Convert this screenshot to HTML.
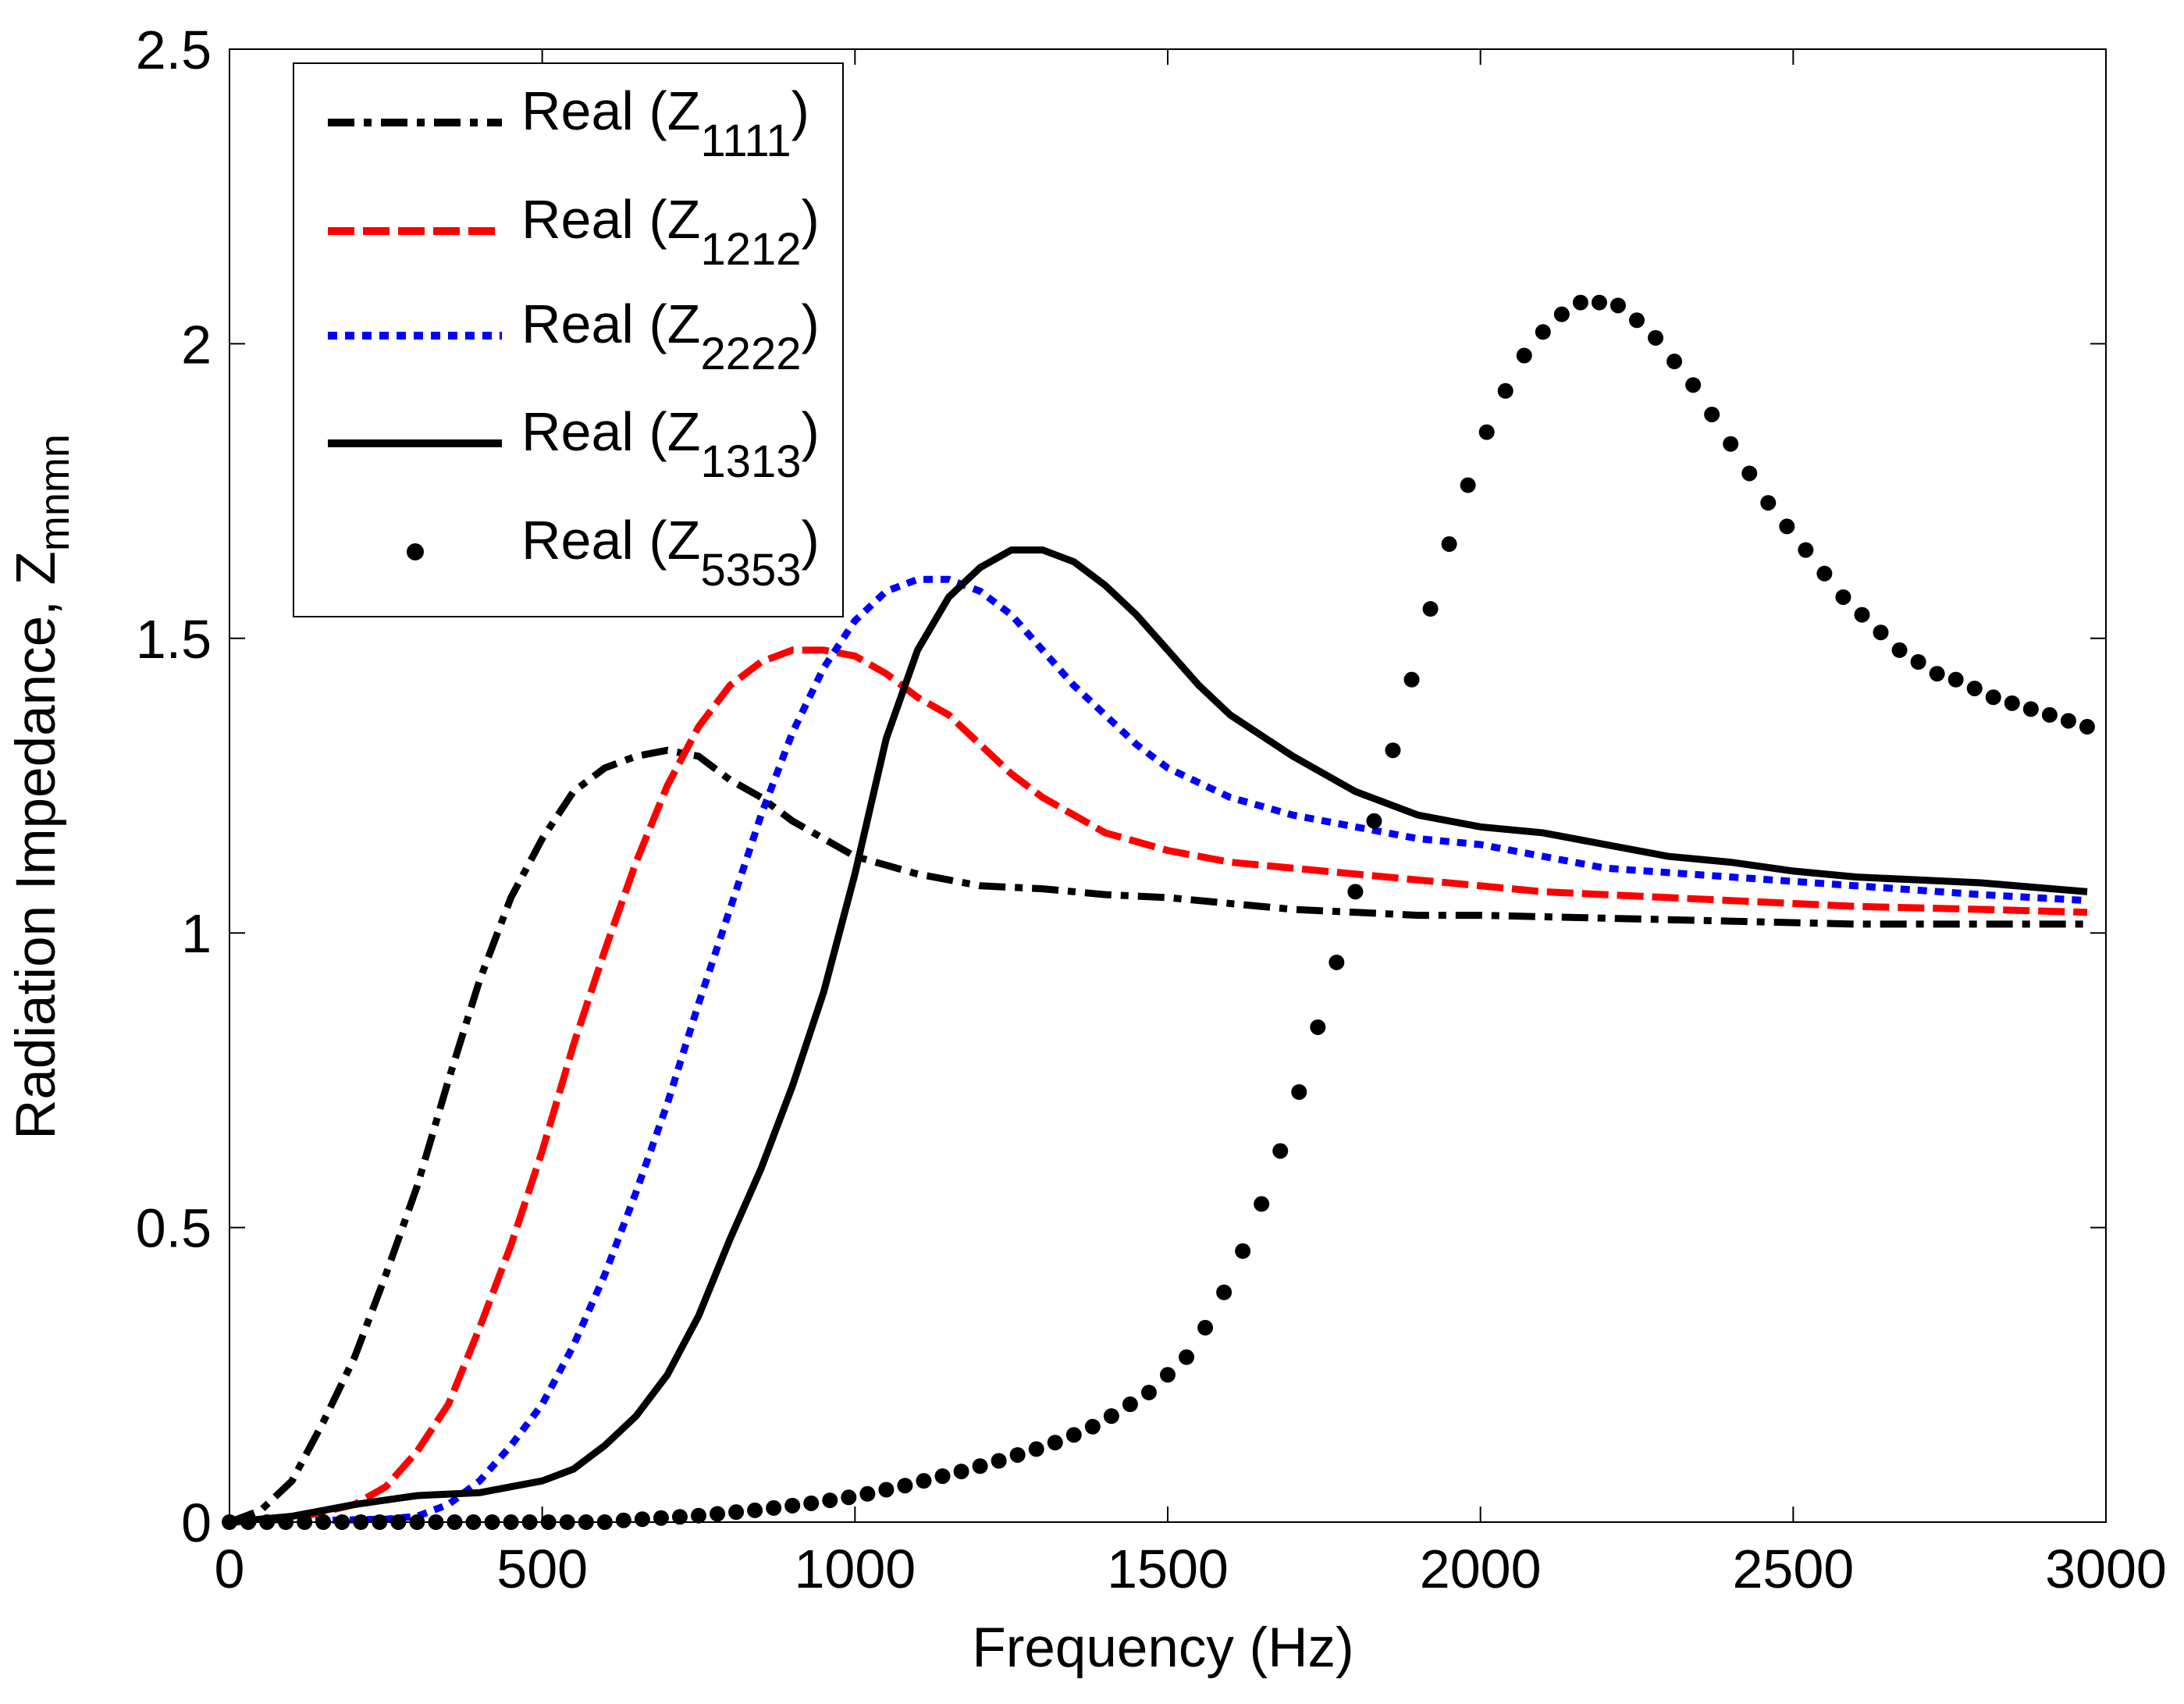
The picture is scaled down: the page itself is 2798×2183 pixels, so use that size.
<!DOCTYPE html>
<html><head><meta charset="utf-8"><style>
html,body{margin:0;padding:0;background:#fff;}
svg text{font-family:"Liberation Sans",sans-serif;fill:#000;}
</style></head><body>
<svg id="chart" width="2798" height="2178" xmlns="http://www.w3.org/2000/svg">
<rect width="2798" height="2178" fill="#fff"/>
<g id="marks"></g>
<rect x="294" y="63" width="2404" height="1887" fill="none" stroke="#000" stroke-width="2"/>
<g id="ticks"></g>
<text x="1490" y="2135" font-size="71" text-anchor="middle">Frequency (Hz)</text>
<text transform="translate(70,1008) rotate(-90)" font-size="71" text-anchor="middle">Radiation Impedance, Z<tspan font-size="54" dy="18">mnmn</tspan></text>
<g>
<rect x="376" y="81" width="704" height="709" fill="#fff" stroke="#000" stroke-width="2"/>
<line x1="420" y1="157" x2="643" y2="157" stroke="#000" stroke-width="10" stroke-dasharray="34,12,10,12"/>
<line x1="420" y1="296" x2="643" y2="296" stroke="#f00" stroke-width="10" stroke-dasharray="34,11"/>
<line x1="420" y1="430" x2="643" y2="430" stroke="#00f" stroke-width="10" stroke-dasharray="12,10"/>
<line x1="420" y1="568" x2="643" y2="568" stroke="#000" stroke-width="10"/>
<circle cx="532" cy="707" r="11" fill="#000"/>
<text x="668" y="166" font-size="70">Real (Z<tspan font-size="58" dy="34">1111</tspan><tspan dy="-34">)</tspan></text>
<text x="668" y="305" font-size="70">Real (Z<tspan font-size="58" dy="34">1212</tspan><tspan dy="-34">)</tspan></text>
<text x="668" y="439" font-size="70">Real (Z<tspan font-size="58" dy="34">2222</tspan><tspan dy="-34">)</tspan></text>
<text x="668" y="577" font-size="70">Real (Z<tspan font-size="58" dy="34">1313</tspan><tspan dy="-34">)</tspan></text>
<text x="668" y="716" font-size="70">Real (Z<tspan font-size="58" dy="34">5353</tspan><tspan dy="-34">)</tspan></text>
</g>
</svg>
<script>
const xTicks=[0,500,1000,1500,2000,2500,3000];
const yTicks=[0,0.5,1,1.5,2,2.5];
const yTickLabels=["0","0.5","1","1.5","2","2.5"];
const f1111=[0,50,100,150,200,250,300,350,400,450,500,550,600,650,700,750,800,850,900,950,1000,1100,1200,1300,1400,1500,1600,1700,1800,1900,2000,2200,2400,2600,2800,2970];
const z1111=[0,0.02,0.07,0.17,0.28,0.42,0.57,0.75,0.92,1.06,1.16,1.24,1.28,1.30,1.31,1.30,1.26,1.23,1.19,1.16,1.13,1.10,1.08,1.075,1.065,1.06,1.05,1.04,1.035,1.03,1.03,1.025,1.02,1.015,1.015,1.015];
const f1212=[0,100,200,250,300,350,400,450,500,550,600,650,700,750,800,850,900,950,1000,1050,1100,1150,1200,1250,1300,1350,1400,1500,1600,1700,1800,1900,2000,2100,2200,2400,2600,2800,2970];
const z1212=[0,0.005,0.03,0.06,0.12,0.2,0.33,0.47,0.63,0.81,0.97,1.12,1.25,1.35,1.42,1.46,1.48,1.48,1.47,1.44,1.40,1.37,1.32,1.27,1.23,1.2,1.17,1.14,1.12,1.11,1.10,1.09,1.08,1.07,1.065,1.055,1.045,1.04,1.035];
const f2222=[0,250,300,350,400,450,500,550,600,650,700,750,800,850,900,950,1000,1050,1100,1150,1200,1250,1300,1350,1400,1450,1500,1600,1700,1800,1900,2000,2100,2200,2400,2600,2800,2970];
const z2222=[0,0.005,0.01,0.03,0.07,0.13,0.2,0.3,0.42,0.56,0.71,0.88,1.04,1.2,1.34,1.45,1.53,1.58,1.6,1.6,1.58,1.54,1.48,1.42,1.37,1.32,1.28,1.23,1.2,1.18,1.16,1.15,1.13,1.11,1.095,1.08,1.065,1.055];
const f1313=[0,100,200,300,400,450,500,550,600,650,700,750,800,850,900,950,1000,1050,1100,1150,1200,1250,1300,1350,1400,1450,1500,1550,1600,1700,1800,1900,2000,2100,2200,2300,2400,2500,2600,2700,2800,2970];
const z1313=[0,0.01,0.03,0.045,0.05,0.06,0.07,0.09,0.13,0.18,0.25,0.35,0.48,0.6,0.74,0.9,1.1,1.33,1.48,1.57,1.62,1.65,1.65,1.63,1.59,1.54,1.48,1.42,1.37,1.3,1.24,1.2,1.18,1.17,1.15,1.13,1.12,1.105,1.095,1.09,1.085,1.07];
const f5353=[0,30,60,90,120,150,180,210,240,270,300,330,360,390,420,450,480,510,540,570,600,630,660,690,720,750,780,810,840,870,900,930,960,990,1020,1050,1080,1110,1140,1170,1200,1230,1260,1290,1320,1350,1380,1410,1440,1470,1500,1530,1560,1590,1620,1650,1680,1710,1740,1770,1800,1830,1860,1890,1920,1950,1980,2010,2040,2070,2100,2130,2160,2190,2220,2250,2280,2310,2340,2370,2400,2430,2460,2490,2520,2550,2580,2610,2640,2670,2700,2730,2760,2790,2820,2850,2880,2910,2940,2970];
const z5353=[0,0,0,0,0,0,0,0,0,0,0,0,0,0,0,0,0,0,0,0,0,0.003,0.005,0.007,0.009,0.011,0.014,0.017,0.02,0.024,0.028,0.032,0.037,0.042,0.048,0.055,0.062,0.07,0.078,0.086,0.095,0.104,0.114,0.124,0.135,0.148,0.162,0.18,0.2,0.22,0.25,0.28,0.33,0.39,0.46,0.54,0.63,0.73,0.84,0.95,1.07,1.19,1.31,1.43,1.55,1.66,1.76,1.85,1.92,1.98,2.02,2.05,2.07,2.07,2.065,2.04,2.01,1.97,1.93,1.88,1.83,1.78,1.73,1.69,1.65,1.61,1.57,1.54,1.51,1.48,1.46,1.44,1.43,1.415,1.40,1.39,1.38,1.37,1.36,1.35];

const X0=294,X1=2698,Y0=1950,Y1=63;
function sx(f){return X0+(f/3000)*(X1-X0);}
function sy(v){return Y0-(v/2.5)*(Y0-Y1);}
const NS="http://www.w3.org/2000/svg";
const marks=document.getElementById('marks');
const ticks=document.getElementById('ticks');

function line(fs,vs,color,dash,name){
  const p=document.createElementNS(NS,'polyline');
  p.setAttribute('points',fs.map((f,i)=>sx(f).toFixed(1)+','+sy(vs[i]).toFixed(1)).join(' '));
  p.setAttribute('fill','none');p.setAttribute('stroke',color);p.setAttribute('stroke-width','9');
  if(dash)p.setAttribute('stroke-dasharray',dash);
  
  
  marks.appendChild(p);
}
line(f1111,z1111,'#000','34,12,10,12','series-z1111');
line(f1212,z1212,'#f00','34,11','series-z1212');
line(f2222,z2222,'#00f','12,10','series-z2222');
line(f1313,z1313,'#000',null,'series-z1313');
f5353.forEach((f,i)=>{
  const c=document.createElementNS(NS,'circle');
  c.setAttribute('cx',sx(f));c.setAttribute('cy',sy(z5353[i]));c.setAttribute('r','10');c.setAttribute('fill','#000');
  
  
  marks.appendChild(c);
});
xTicks.forEach(t=>{
  const x=sx(t);
  [[Y0,Y0-20],[Y1,Y1+20]].forEach(([a,b])=>{
    const l=document.createElementNS(NS,'line');
    l.setAttribute('x1',x);l.setAttribute('x2',x);l.setAttribute('y1',a);l.setAttribute('y2',b);l.setAttribute('stroke','#000');l.setAttribute('stroke-width','2');
    
    
    ticks.appendChild(l);
  });
  const tx=document.createElementNS(NS,'text');
  tx.setAttribute('x',x);tx.setAttribute('y',2034);tx.setAttribute('font-size','70');tx.setAttribute('text-anchor','middle');
  tx.textContent=String(t);
  
  
  ticks.appendChild(tx);
});
yTicks.forEach((t,i)=>{
  const y=sy(t);
  [[X0,X0+20],[X1,X1-20]].forEach(([a,b])=>{
    const l=document.createElementNS(NS,'line');
    l.setAttribute('y1',y);l.setAttribute('y2',y);l.setAttribute('x1',a);l.setAttribute('x2',b);l.setAttribute('stroke','#000');l.setAttribute('stroke-width','2');
    
    
    ticks.appendChild(l);
  });
  const tx=document.createElementNS(NS,'text');
  tx.setAttribute('x',271);tx.setAttribute('y',y+25);tx.setAttribute('font-size','70');tx.setAttribute('text-anchor','end');
  tx.textContent=yTickLabels[i];
  
  
  ticks.appendChild(tx);
});
</script>
</body></html>
